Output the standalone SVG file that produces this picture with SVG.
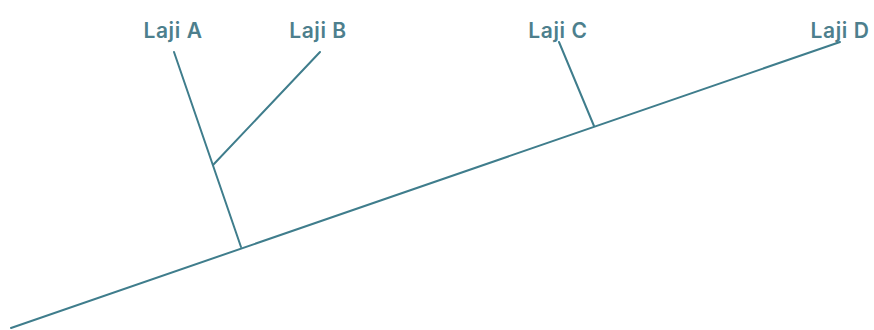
<svg xmlns="http://www.w3.org/2000/svg" width="874" height="330" viewBox="0 0 874 330">
<style>
.edge{stroke:#3f7d8c;stroke-width:2;fill:none;stroke-linecap:round}
.lbl{font-family:"Inter","Liberation Sans",sans-serif;font-size:21px;font-weight:600;letter-spacing:0.6px;fill:#4d7f8d;text-anchor:middle}
</style>
<rect width="874" height="330" fill="#ffffff"/>
<g id="connectors">
<line class="edge" x1="11" y1="328" x2="840" y2="42"/>
<line class="edge" x1="241" y1="247" x2="174" y2="52"/>
<line class="edge" x1="213" y1="165" x2="320" y2="52"/>
<line class="edge" x1="594" y1="126" x2="559" y2="42"/>
</g>
<g id="laji-a"><text class="lbl" x="173" y="38">Laji A</text></g>
<g id="laji-b"><text class="lbl" x="318" y="38">Laji B</text></g>
<g id="laji-c"><text class="lbl" x="558" y="38">Laji C</text></g>
<g id="laji-d"><text class="lbl" x="840" y="38">Laji D</text></g>
</svg>
